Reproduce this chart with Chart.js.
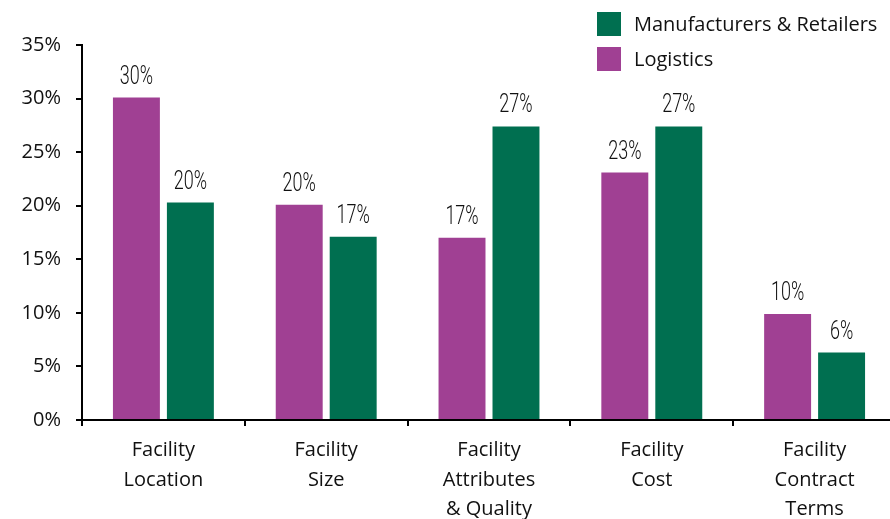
<!DOCTYPE html>
<html>
<head>
<meta charset="utf-8">
<script src="https://cdn.jsdelivr.net/npm/chart.js@4.4.1/dist/chart.umd.min.js"></script>
<style>
  html, body { margin: 0; padding: 0; background: #fff; overflow: hidden; }
  #wrap { width: 898px; height: 519px; position: relative; }
</style>
</head>
<body>
<div id="wrap"><canvas id="bar_chart"></canvas></div>
<script>
// categories (multi-line labels)
const categories = [
  ["Facility", "Location"],
  ["Facility", "Size"],
  ["Facility", "Attributes", "& Quality"],
  ["Facility", "Cost"],
  ["Facility", "Contract", "Terms"],
];

// share of respondents, %
const logistics_values = [30.1, 20.1, 17.0, 23.1, 9.9];
const manufacturers_values = [20.3, 17.1, 27.4, 27.4, 6.3];

const y_ticks = [0, 5, 10, 15, 20, 25, 30, 35];

const PURPLE = "#A04093";
const GREEN = "#006F50";
const LABEL_FONT = "'Open Sans', 'Noto Sans', sans-serif";
const VALUE_FONT = "Roboto, 'Noto Sans', sans-serif";

const ctx = document.getElementById("bar_chart").getContext("2d");

// value labels above every bar, squeezed horizontally
const valueLabels = {
  id: "valueLabels",
  afterDatasetsDraw(chart) {
    const c = chart.ctx;
    const squeeze = 0.72;
    c.save();
    c.font = "300 25px " + VALUE_FONT;
    c.fillStyle = "#111";
    c.textAlign = "center";
    c.textBaseline = "alphabetic";
    chart.data.datasets.forEach((ds, i) => {
      chart.getDatasetMeta(i).data.forEach((bar, j) => {
        c.save();
        c.translate(bar.x, bar.y - 14);
        c.scale(squeeze, 1);
        c.fillText(Math.round(ds.data[j]) + "%", 0, 0);
        c.restore();
      });
    });
    c.restore();
  },
};

// legend in the top right corner, Manufacturers first
const cornerLegend = {
  id: "cornerLegend",
  afterDraw(chart) {
    const c = chart.ctx;
    const items = chart.data.datasets.slice().reverse();
    c.save();
    c.font = "20px " + LABEL_FONT;
    c.textBaseline = "middle";
    c.textAlign = "left";
    items.forEach((ds, i) => {
      const y = 12 + i * 35;
      c.fillStyle = ds.backgroundColor;
      c.fillRect(597, y, 24, 24);
      c.fillStyle = "#111";
      c.fillText(ds.label, 634, y + 13);
    });
    c.restore();
  },
};

new Chart(ctx, {
  type: "bar",
  data: {
    labels: categories,
    datasets: [
      {
        label: "Logistics",
        data: logistics_values,
        backgroundColor: PURPLE,
        borderWidth: 0,
      },
      {
        label: "Manufacturers & Retailers",
        data: manufacturers_values,
        backgroundColor: GREEN,
        borderWidth: 0,
      },
    ],
  },
  options: {
    responsive: true,
    maintainAspectRatio: false,
    animation: false,
    categoryPercentage: 0.663,
    barPercentage: 0.87,
    layout: { padding: { top: 45, right: 2, left: 0, bottom: 0 } },
    plugins: {
      legend: { display: false },
      tooltip: { enabled: false },
    },
    scales: {
      x: {
        grid: {
          offset: true,
          drawOnChartArea: false,
          tickLength: 6,
          color: "#000",
          lineWidth: 2,
        },
        border: { display: true, color: "#000", width: 2 },
        ticks: {
          color: "#111",
          font: { family: LABEL_FONT, size: 20, lineHeight: 1.47 },
          padding: 10,
          maxRotation: 0,
          autoSkip: false,
        },
        afterFit(scale) {
          scale.height = 99;
        },
      },
      y: {
        min: 0,
        max: 35,
        afterBuildTicks(scale) {
          scale.ticks = y_ticks.map((v) => ({ value: v }));
        },
        grid: {
          drawOnChartArea: false,
          tickLength: 6,
          color: "#000",
          lineWidth: 2,
        },
        border: { display: true, color: "#000", width: 2 },
        ticks: {
          color: "#111",
          font: { family: LABEL_FONT, size: 20 },
          padding: 15,
          callback: (v) => v + "%",
        },
        afterFit(scale) {
          scale.width = 82;
        },
      },
    },
  },
  plugins: [valueLabels, cornerLegend],
});
</script>
</body>
</html>
